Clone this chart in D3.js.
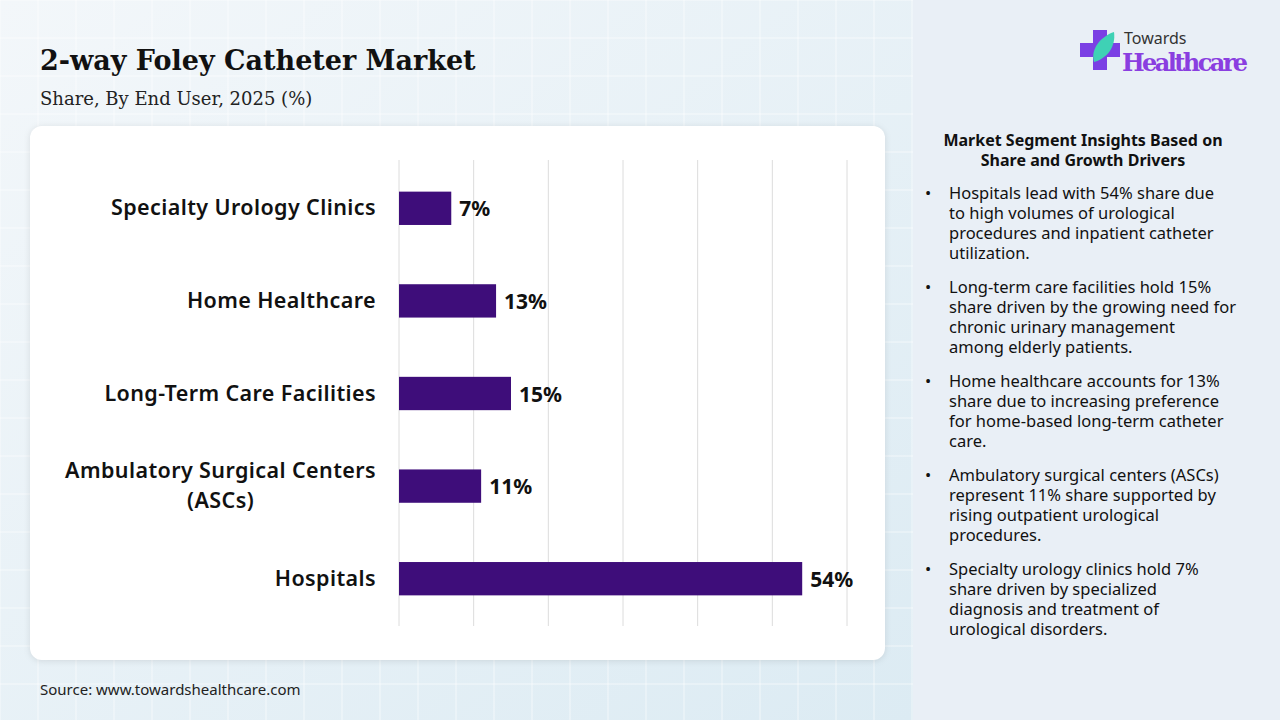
<!DOCTYPE html>
<html><head><meta charset="utf-8">
<script src="https://cdn.jsdelivr.net/npm/d3@7"></script>
<style>
body{margin:0;width:1280px;height:720px;overflow:hidden;font-family:"Noto Sans",sans-serif;}
</style></head>
<body><svg id="chart" width="1280" height="720"></svg>
<script>
const categories = ["Specialty Urology Clinics", "Home Healthcare", "Long-Term Care Facilities", "Ambulatory Surgical Centers (ASCs)", "Hospitals"];
const shares = [7, 13, 15, 11, 54];
const xTicks = [0, 10, 20, 30, 40, 50, 60];
const insights = [
  ["Hospitals lead with 54% share due", "to high volumes of urological", "procedures and inpatient catheter", "utilization."],
  ["Long-term care facilities hold 15%", "share driven by the growing need for", "chronic urinary management", "among elderly patients."],
  ["Home healthcare accounts for 13%", "share due to increasing preference", "for home-based long-term catheter", "care."],
  ["Ambulatory surgical centers (ASCs)", "represent 11% share supported by", "rising outpatient urological", "procedures."],
  ["Specialty urology clinics hold 7%", "share driven by specialized", "diagnosis and treatment of", "urological disorders."]
];

const svg = d3.select("#chart");
const defs = svg.append("defs");
const bg = defs.append("linearGradient").attr("id", "bg").attr("x1", 0).attr("y1", 0).attr("x2", 1).attr("y2", 1);
bg.append("stop").attr("offset", "0%").attr("stop-color", "#f3f7fa");
bg.append("stop").attr("offset", "100%").attr("stop-color", "#dcebf3");
svg.append("rect").attr("width", 913).attr("height", 720).attr("fill", "url(#bg)");
// background grid
const g0 = svg.append("g").attr("stroke", "#ffffff").attr("stroke-opacity", 0.6);
for (let x = 0; x < 913; x += 38) g0.append("line").attr("x1", x).attr("x2", x).attr("y1", 0).attr("y2", 720);
for (let y = 0; y < 720; y += 38) g0.append("line").attr("x1", 0).attr("x2", 913).attr("y1", y).attr("y2", y);
svg.append("rect").attr("x", 913).attr("width", 367).attr("height", 720).attr("fill", "#e9eff6");

svg.append("text").attr("x", 40).attr("y", 70).attr("font-family", "DejaVu Serif").attr("font-weight", "bold")
  .attr("font-size", 27).attr("fill", "#111").text("2-way Foley Catheter Market");
svg.append("text").attr("x", 40).attr("y", 105).attr("font-family", "DejaVu Serif")
  .attr("font-size", 18).attr("fill", "#222").text("Share, By End User, 2025 (%)");

svg.append("rect").attr("x", 30).attr("y", 126).attr("width", 855).attr("height", 534).attr("rx", 12)
  .attr("fill", "#fff").style("filter", "drop-shadow(0 1px 3px rgba(0,0,0,0.1))");

const x = d3.scaleLinear().domain([0, 60]).range([399, 847]);
const y = d3.scaleBand().domain(categories).range([162, 625]).paddingInner(0.64).paddingOuter(0.32);

svg.append("g").selectAll("line").data(xTicks).join("line")
  .attr("x1", d => x(d)).attr("x2", d => x(d)).attr("y1", 160).attr("y2", 626)
  .attr("stroke", "#dcdcdc");

svg.append("g").selectAll("rect").data(categories).join("rect")
  .attr("x", x(0)).attr("y", d => y(d)).attr("height", y.bandwidth())
  .attr("width", (d, i) => x(shares[i]) - x(0)).attr("fill", "#3e0d7a");

svg.append("g").selectAll("text").data(categories).join("text")
  .attr("x", (d, i) => x(shares[i]) + 8).attr("y", d => y(d) + y.bandwidth() / 2 + 8)
  .attr("font-size", 21).attr("font-weight", "bold").attr("fill", "#111")
  .text((d, i) => shares[i] + "%");

const lab = svg.append("g").selectAll("text").data(categories).join("text")
  .attr("text-anchor", "end").attr("font-size", 21.5).attr("font-weight", 600).attr("fill", "#111")
  .attr("letter-spacing", 0.4)
  .attr("transform", d => `translate(376,${y(d) + y.bandwidth() / 2})`);
lab.each(function (d) {
  const t = d3.select(this);
  const parts = d === "Ambulatory Surgical Centers (ASCs)" ? ["Ambulatory Surgical Centers", "(ASCs)"] : [d];
  const spans = parts.map((p, i) => t.append("tspan").attr("x", 0)
    .attr("y", (i - (parts.length - 1) / 2) * 30 + 7).text(p));
  if (spans.length > 1) {
    const w0 = spans[0].node().getComputedTextLength(), w1 = spans[1].node().getComputedTextLength();
    spans[1].attr("x", -(w0 - w1) / 2);
  }
});

svg.append("text").attr("x", 40).attr("y", 695).attr("font-size", 15).attr("fill", "#222")
  .text("Source: www.towardshealthcare.com");

// logo
const logo = svg.append("g").attr("transform", "translate(1080,30)");
logo.append("path").attr("d", "M13,0h14v13h13v14h-13v13h-14v-13h-13v-14h13z").attr("fill", "#7b3fe4");
logo.append("path").attr("d", "M14,32 C10,18 22,6 34,2 C36,16 28,28 14,32z").attr("fill", "#3fd1b5");
svg.append("text").attr("x", 1124).attr("y", 44).attr("font-size", 16).attr("fill", "#333").text("Towards");
svg.append("text").attr("x", 1122).attr("y", 71).attr("font-family", "DejaVu Serif").attr("font-weight", "bold")
  .attr("font-size", 24).attr("fill", "#8a3ee0").attr("textLength", 126).text("Healthcare");

// insights panel
const panel = svg.append("g").attr("font-size", 16.5).attr("fill", "#111");
panel.append("text").attr("x", 1083).attr("y", 146).attr("text-anchor", "middle").attr("font-weight", "bold")
  .attr("font-size", 16).text("Market Segment Insights Based on");
panel.append("text").attr("x", 1083).attr("y", 166).attr("text-anchor", "middle").attr("font-weight", "bold")
  .attr("font-size", 16).text("Share and Growth Drivers");
insights.forEach((lines, i) => {
  const top = 199 + i * 94;
  panel.append("text").attr("x", 925).attr("y", top).text("•");
  lines.forEach((l, j) => panel.append("text").attr("x", 949).attr("y", top + j * 20).text(l));
});
</script></body></html>
